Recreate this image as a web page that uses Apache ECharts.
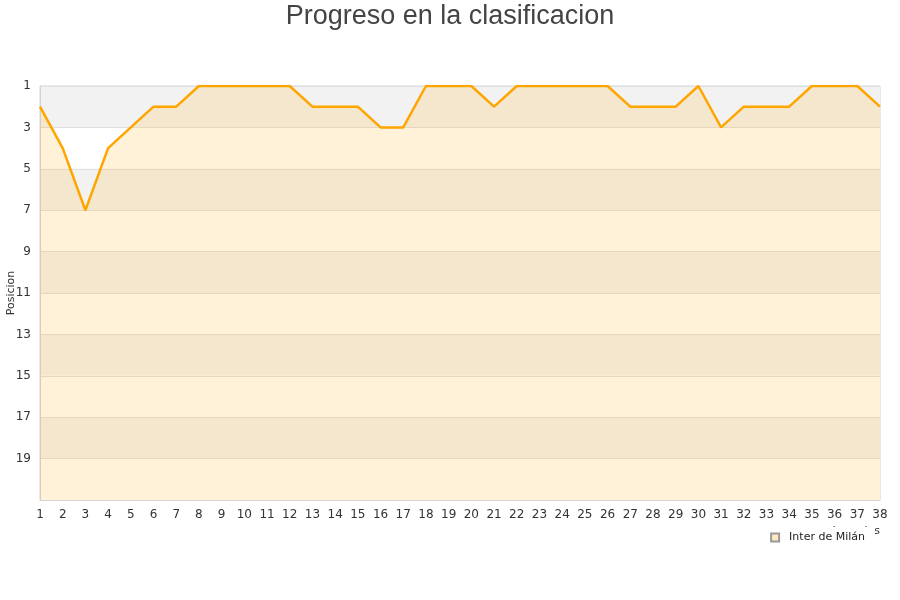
<!DOCTYPE html>
<html><head><meta charset="utf-8">
<script src="https://cdn.jsdelivr.net/npm/echarts@6/dist/echarts.min.js"></script>
<style>html,body{margin:0;padding:0;background:#fff}#c{width:900px;height:600px}</style>
</head><body><div id="c"></div>
<script>
const jornadas = ['1','2','3','4','5','6','7','8','9','10','11','12','13','14','15','16','17','18','19','20','21','22','23','24','25','26','27','28','29','30','31','32','33','34','35','36','37','38'];
const posiciones = [2,4,7,4,3,2,2,1,1,1,1,1,2,2,2,3,3,1,1,1,2,1,1,1,1,1,2,2,2,1,3,2,2,2,1,1,1,2];
const equipo = 'Inter de Milán';
const titulo = 'Progreso en la clasificacion';

const chart = echarts.init(document.getElementById('c'));
chart.setOption({
  animation: false,
  backgroundColor: '#ffffff',
  title: {
    text: titulo, left: 'center', top: -2,
    textStyle: { fontFamily: 'Liberation Sans', fontSize: 27, fontWeight: 'normal', color: '#444' }
  },
  legend: {
    data: [{ name: equipo, icon: 'rect' }],
    right: 25, top: 527,
    itemWidth: 8, itemHeight: 8, itemGap: 8,
    backgroundColor: '#ffffff', padding: [5, 10, 5, 4],
    textStyle: { fontFamily: 'DejaVu Sans', fontSize: 11, color: '#222', padding: [0, 0, 0, 5] },
    z: 10
  },
  grid: { left: 40, right: 20, top: 86, bottom: 100, outerBoundsMode: 'none', containLabel: false, show: true, borderColor: '#d4d4d4', borderWidth: 1, backgroundColor: 'transparent' },
  xAxis: {
    type: 'category', data: jornadas, boundaryGap: false,
    name: 'Jornadas', nameLocation: 'end', nameGap: 0, nameMoveOverlap: false,
    nameTextStyle: { fontFamily: 'DejaVu Sans', fontSize: 11, color: '#333', align: 'right', verticalAlign: 'top', padding: [26, 0, 0, 0] },
    axisLine: { lineStyle: { color: '#d4d4d4' } },
    axisTick: { show: false },
    axisLabel: { interval: 0, fontFamily: 'DejaVu Sans', fontSize: 12, color: '#333', margin: 9 },
    splitLine: { show: false }
  },
  yAxis: {
    type: 'value', inverse: true, min: 1, max: 21, interval: 2,
    name: 'Posicion', nameLocation: 'middle', nameGap: 23, nameMoveOverlap: false,
    nameTextStyle: { fontFamily: 'DejaVu Sans', fontSize: 11, color: '#333' },
    axisLine: { show: true, lineStyle: { color: '#d4d4d4' } },
    axisTick: { show: false },
    axisLabel: { showMaxLabel: false, fontFamily: 'DejaVu Sans', fontSize: 12, color: '#333', margin: 9 },
    splitLine: { show: true, lineStyle: { color: '#e0e0e0' } },
    splitArea: { show: true, areaStyle: { color: ['#f2f2f2', '#ffffff'] } }
  },
  series: [{
    name: equipo, type: 'line', data: posiciones,
    symbol: 'none', smooth: false,
    lineStyle: { color: '#ffa500', width: 2.5 },
    itemStyle: { color: '#fde9c4', borderColor: '#999999', borderWidth: 1 },
    areaStyle: { color: 'rgba(255,165,0,0.21)', origin: 'end' }
  }]
});
</script></body></html>
